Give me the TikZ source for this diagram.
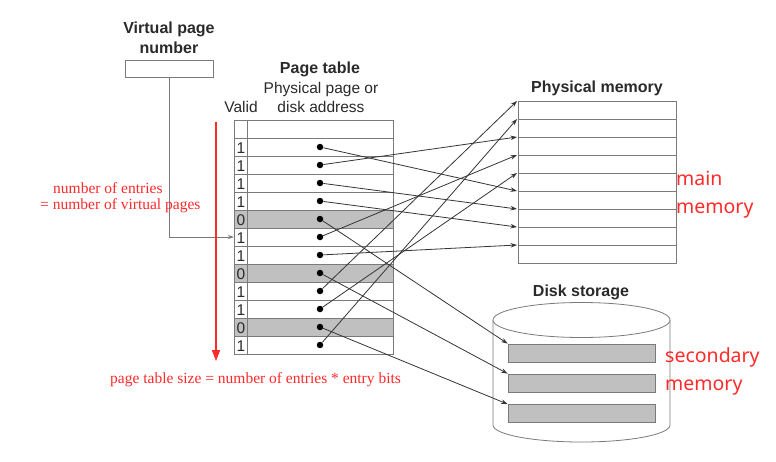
\documentclass[tikz,border=0pt]{standalone}
\usepackage{fontspec}
\setmainfont{Liberation Sans}
\newfontfamily\tms{Liberation Serif}
\newfontfamily\nsans{Noto Sans}
\usetikzlibrary{arrows.meta}
\definecolor{tline}{HTML}{7A7A7A}
\definecolor{cline}{HTML}{353535}
\definecolor{rowgray}{HTML}{C0C0C0}
\definecolor{txt}{HTML}{2A2A2A}
\definecolor{redt}{HTML}{FF2A2A}
\begin{document}
\begin{tikzpicture}[x=1pt,y=-1pt,
  lbl/.style={font=\fontsize{16}{18}\selectfont\bfseries, text=txt, inner sep=0, anchor=base},
  reg/.style={font=\fontsize{15.5}{18}\selectfont, text=txt, inner sep=0, anchor=base},
  conn/.style={cline, line width=0.8pt, -{Stealth[length=6.5pt,width=4.5pt]}},
  dotn/.style={circle, fill=black, inner sep=0, minimum size=6.5pt},
  redtxt/.style={font=\tms\fontsize{15.5}{17}\selectfont, text=redt, inner sep=0, anchor=base west},
  redsans/.style={font=\nsans\fontsize{19.5}{22}\selectfont, text=redt, inner sep=0, anchor=base west},
  diskbox/.style={draw=tline, fill=rowgray, line width=0.8pt, minimum width=147pt, minimum height=18pt, inner sep=0}
]
\useasboundingbox (0,0) rectangle (776,461);
\fill[white] (0,0) rectangle (776,461);

% ---------- page table ----------
\foreach \i in {5,8,11} {
  \fill[rowgray] (234,{138+18*(\i-1)}) rectangle (393,{156+18*(\i-1)});
}
\draw[tline, line width=0.8pt] (234,120) rectangle (393,354);
\draw[tline, line width=0.8pt] (247,120) -- (247,354);
\foreach \k in {0,...,11} {
  \draw[tline, line width=0.8pt] (234,{138+18*\k}) -- (393,{138+18*\k});
}
\foreach \i/\v in {1/1,2/1,3/1,4/1,5/0,6/1,7/1,8/0,9/1,10/1,11/0,12/1} {
  \node[reg] (v\i) at (241,{153+18*(\i-1)}) {\v};
  \node[dotn] (d\i) at (320,{147+18*(\i-1)}) {};
}

\node[lbl] (pt) at (320,73) {Page table};
\node[reg] (pp) at (321,93) {Physical page or};
\node[reg] (da) at (321,112) {disk address};
\node[reg] (valid) at (241,112) {Valid};

% ---------- virtual page number ----------
\node[lbl] (vp1) at (169,33) {Virtual page};
\node[lbl] (vp2) at (169,53) {number};
\node[draw=tline, line width=0.8pt, minimum width=88pt, minimum height=17pt, inner sep=0] (vpn) at (169,68.5) {};
\coordinate (e6) at (234,237);
\draw[tline, line width=0.8pt, -{Stealth[length=6pt,width=4pt]}] (vpn.south) |- (e6);

% ---------- physical memory ----------
\node[lbl] (pmt) at (597,92) {Physical memory};
\draw[tline, line width=0.8pt] (518,101) rectangle (676,263);
\foreach \k in {1,...,8} {
  \draw[tline, line width=0.8pt] (518,{101+18*\k}) -- (676,{101+18*\k});
}
\foreach \k in {0,...,8} {
  \coordinate (m\k) at (517,{101+18*\k});
}

% ---------- disk storage ----------
\node[lbl] (dst) at (581,296) {Disk storage};
\draw[tline, line width=0.8pt, fill=white] (493,320) -- (493,425) arc[start angle=180, end angle=360, x radius=88.5, y radius=-17] -- (670,320);
\draw[tline, line width=0.8pt, fill=white] (581.5,320) ellipse [x radius=88.5, y radius=17.5];
\node[diskbox] (b1) at (581.5,353) {};
\node[diskbox] (b2) at (581.5,383) {};
\node[diskbox] (b3) at (581.5,413.5) {};

% ---------- connectors ----------
\draw[conn] (d1) -- (m5);
\draw[conn] (d2) -- (m2);
\draw[conn] (d3) -- (m6);
\draw[conn] (d4) -- (m7);
\draw[conn] (d6) -- (m3);
\draw[conn] (d7) -- (m8);
\draw[conn] (d9) -- (m0);
\draw[conn] (d10) -- (m4);
\draw[conn] (d12) -- (m1);
\draw[conn] (d5) -- (b1.north west);
\draw[conn] (d8) -- (b2.north west);
\draw[conn] (d11) -- (b3.north west);

% ---------- red annotations ----------
\coordinate (ra) at (216,122);
\coordinate (rb) at (216,361);
\draw[redt, line width=1.3pt, -{Triangle[length=11pt,width=8pt]}] (ra) -- (rb);
\node[redtxt] (r1) at (53,193) {number of entries};
\node[redtxt] (r2) at (40,209) {= number of virtual pages};
\node[redtxt] (r3) at (110,383) {page table size = number of entries * entry bits};
\node[redsans] (mm1) at (676,185) {main};
\node[redsans] (mm2) at (676,213) {memory};
\node[redsans] (sm1) at (665,362) {secondary};
\node[redsans] (sm2) at (665,390) {memory};
\end{tikzpicture}
\end{document}
